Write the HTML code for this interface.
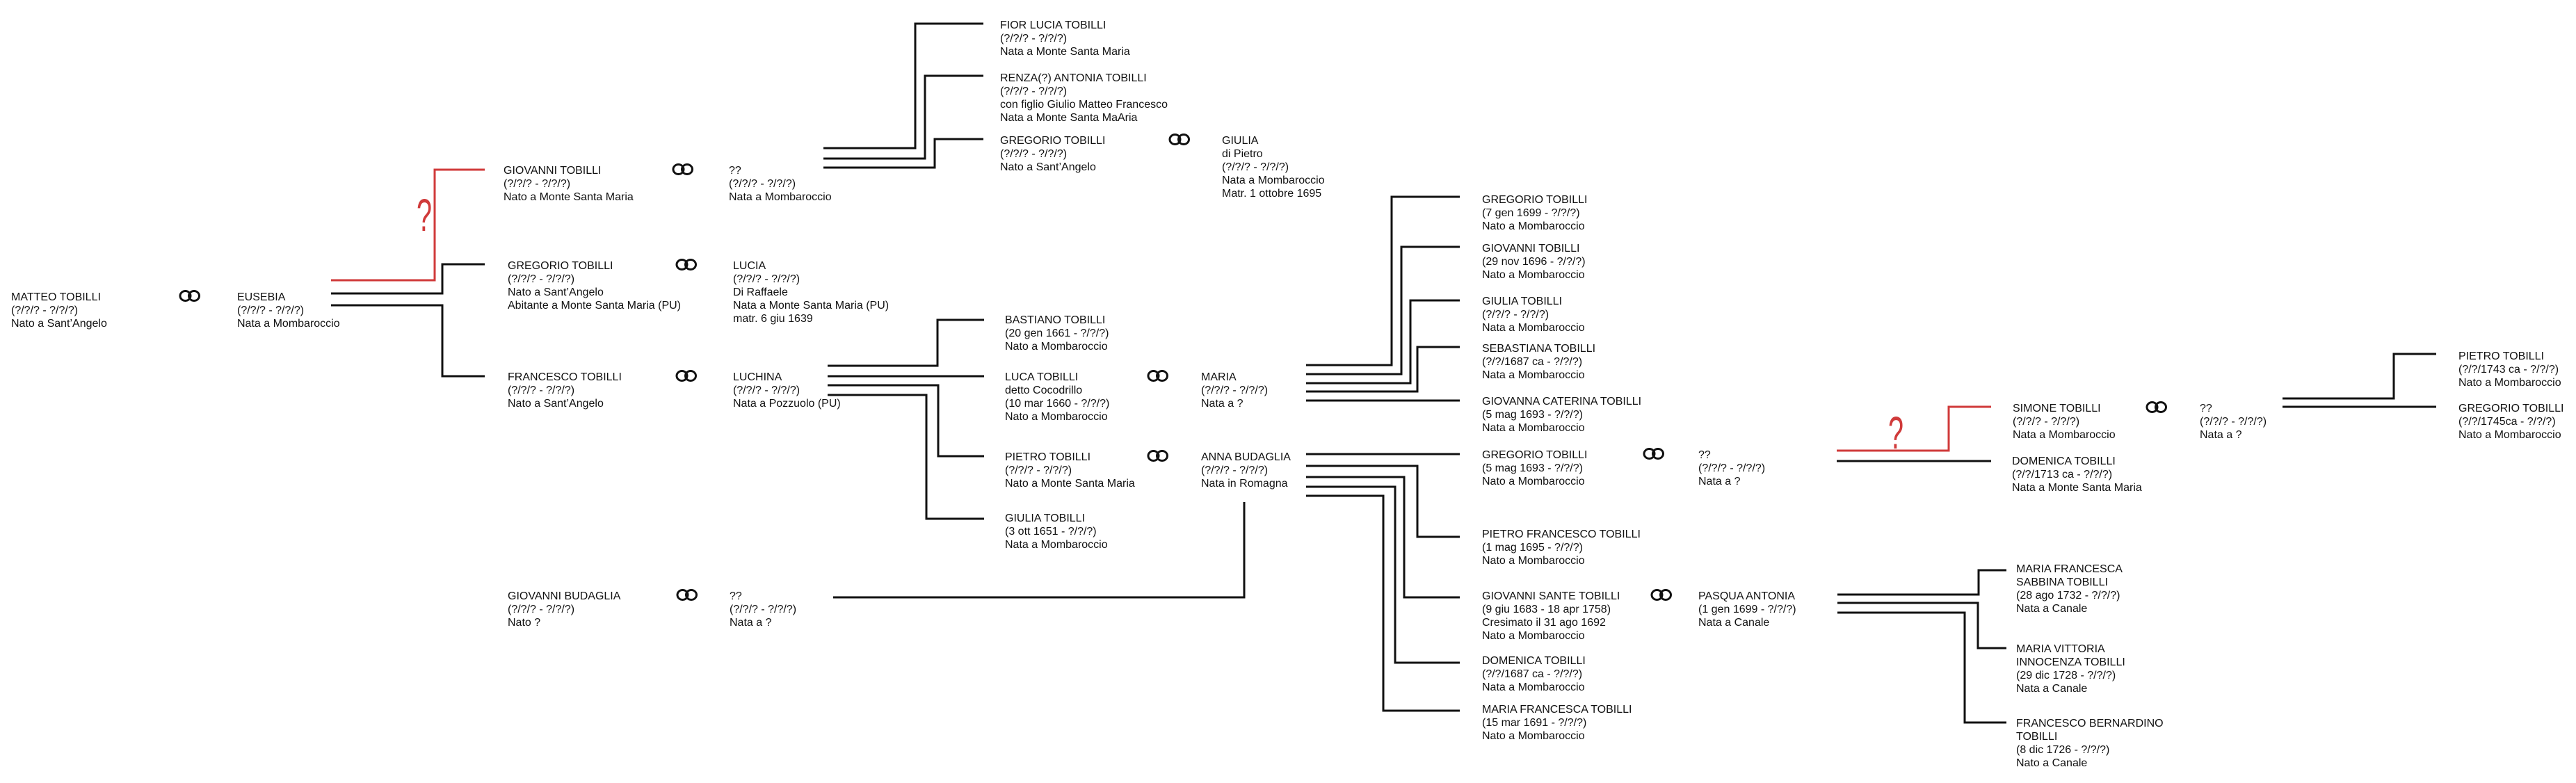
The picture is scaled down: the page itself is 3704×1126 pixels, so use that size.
<!DOCTYPE html>
<html><head><meta charset="utf-8"><style>
html,body{margin:0;padding:0;background:#fff;}
svg{display:block;}
text{font-family:"Liberation Sans",Arial,sans-serif;font-size:16px;fill:#111;}
.q{font-size:66px;fill:#d03a3a;}
</style></head><body>
<svg width="3704" height="1126" viewBox="0 0 3704 1126" xmlns="http://www.w3.org/2000/svg">
<defs>
<g id="ring"><ellipse cx="8.5" cy="-6.5" rx="7.5" ry="7" fill="none" stroke="#111" stroke-width="3"/><ellipse cx="21" cy="-6.5" rx="7.5" ry="7" fill="none" stroke="#111" stroke-width="3"/></g>
</defs>
<g fill="none" stroke="#111" stroke-width="3">
<polyline points="476,422 636,422 636,380 697,380"/>
<polyline points="476,439 636,439 636,541 697,541"/>
<polyline points="1184,213 1316,213 1316,34 1414,34"/>
<polyline points="1184,228 1330,228 1330,109 1414,109"/>
<polyline points="1184,241 1344,241 1344,200 1414,200"/>
<polyline points="1190,526 1348,526 1348,460 1415,460"/>
<polyline points="1190,541 1415,541"/>
<polyline points="1190,554 1349,554 1349,656 1415,656"/>
<polyline points="1190,568 1332,568 1332,746 1415,746"/>
<polyline points="1198,859 1789,859 1789,722"/>
<polyline points="1878,525 2001,525 2001,283 2099,283"/>
<polyline points="1878,538 2015,538 2015,355 2099,355"/>
<polyline points="1878,551 2028,551 2028,432 2099,432"/>
<polyline points="1878,563 2038,563 2038,499 2099,499"/>
<polyline points="1878,576 2099,576"/>
<polyline points="1878,653 2099,653"/>
<polyline points="1878,670 2038,670 2038,772 2099,772"/>
<polyline points="1878,686 2019,686 2019,859 2099,859"/>
<polyline points="1878,700 2006,700 2006,953 2099,953"/>
<polyline points="1878,713 1989,713 1989,1022 2099,1022"/>
<polyline points="2641,663 2863,663"/>
<polyline points="2642,855 2845,855 2845,820 2885,820"/>
<polyline points="2642,867 2844,867 2844,932 2885,932"/>
<polyline points="2642,881 2825,881 2825,1039 2885,1039"/>
<polyline points="3282,573 3442,573 3442,509 3503,509"/>
<polyline points="3282,585 3503,585"/>
</g>
<g fill="none" stroke="#d03a3a" stroke-width="3">
<polyline points="476,403 625,403 625,244 697,244"/>
<polyline points="2641,648 2802,648 2802,585 2863,585"/>
</g>
<text class="q" transform="translate(599,332) scale(0.6,1)">?</text>
<text class="q" transform="translate(2715,645) scale(0.6,1)">?</text>

<use href="#ring" x="258" y="432"/>
<use href="#ring" x="967" y="250"/>
<use href="#ring" x="972" y="387"/>
<use href="#ring" x="972" y="547"/>
<use href="#ring" x="973" y="862"/>
<use href="#ring" x="1681" y="207"/>
<use href="#ring" x="1650" y="547"/>
<use href="#ring" x="1650" y="662"/>
<use href="#ring" x="2363" y="659"/>
<use href="#ring" x="2374" y="862"/>
<use href="#ring" x="3086" y="592"/>

<text x="16" y="432"><tspan x="16">MATTEO TOBILLI</tspan><tspan x="16" dy="19">(?/?/? - ?/?/?)</tspan><tspan x="16" dy="19">Nato a Sant’Angelo</tspan></text>
<text y="432"><tspan x="341">EUSEBIA</tspan><tspan x="341" dy="19">(?/?/? - ?/?/?)</tspan><tspan x="341" dy="19">Nata a Mombaroccio</tspan></text>
<text y="250"><tspan x="724">GIOVANNI TOBILLI</tspan><tspan x="724" dy="19">(?/?/? - ?/?/?)</tspan><tspan x="724" dy="19">Nato a Monte Santa Maria</tspan></text>
<text y="250"><tspan x="1048">??</tspan><tspan x="1048" dy="19">(?/?/? - ?/?/?)</tspan><tspan x="1048" dy="19">Nata a Mombaroccio</tspan></text>
<text y="387"><tspan x="730">GREGORIO TOBILLI</tspan><tspan x="730" dy="19">(?/?/? - ?/?/?)</tspan><tspan x="730" dy="19">Nato a Sant’Angelo</tspan><tspan x="730" dy="19">Abitante a Monte Santa Maria (PU)</tspan></text>
<text y="387"><tspan x="1054">LUCIA</tspan><tspan x="1054" dy="19">(?/?/? - ?/?/?)</tspan><tspan x="1054" dy="19">Di Raffaele</tspan><tspan x="1054" dy="19">Nata a Monte Santa Maria (PU)</tspan><tspan x="1054" dy="19">matr. 6 giu 1639</tspan></text>
<text y="547"><tspan x="730">FRANCESCO TOBILLI</tspan><tspan x="730" dy="19">(?/?/? - ?/?/?)</tspan><tspan x="730" dy="19">Nato a Sant’Angelo</tspan></text>
<text y="547"><tspan x="1054">LUCHINA</tspan><tspan x="1054" dy="19">(?/?/? - ?/?/?)</tspan><tspan x="1054" dy="19">Nata a Pozzuolo (PU)</tspan></text>
<text y="862"><tspan x="730">GIOVANNI BUDAGLIA</tspan><tspan x="730" dy="19">(?/?/? - ?/?/?)</tspan><tspan x="730" dy="19">Nato ?</tspan></text>
<text y="862"><tspan x="1049">??</tspan><tspan x="1049" dy="19">(?/?/? - ?/?/?)</tspan><tspan x="1049" dy="19">Nata a ?</tspan></text>
<text y="41"><tspan x="1438">FIOR LUCIA TOBILLI</tspan><tspan x="1438" dy="19">(?/?/? - ?/?/?)</tspan><tspan x="1438" dy="19">Nata a Monte Santa Maria</tspan></text>
<text y="117"><tspan x="1438">RENZA(?) ANTONIA TOBILLI</tspan><tspan x="1438" dy="19">(?/?/? - ?/?/?)</tspan><tspan x="1438" dy="19">con figlio Giulio Matteo Francesco</tspan><tspan x="1438" dy="19">Nata a Monte Santa MaAria</tspan></text>
<text y="207"><tspan x="1438">GREGORIO TOBILLI</tspan><tspan x="1438" dy="19">(?/?/? - ?/?/?)</tspan><tspan x="1438" dy="19">Nato a Sant’Angelo</tspan></text>
<text y="207"><tspan x="1757">GIULIA</tspan><tspan x="1757" dy="19">di Pietro</tspan><tspan x="1757" dy="19">(?/?/? - ?/?/?)</tspan><tspan x="1757" dy="19">Nata a Mombaroccio</tspan><tspan x="1757" dy="19">Matr. 1 ottobre 1695</tspan></text>
<text y="465"><tspan x="1445">BASTIANO TOBILLI</tspan><tspan x="1445" dy="19">(20 gen 1661 - ?/?/?)</tspan><tspan x="1445" dy="19">Nato a Mombaroccio</tspan></text>
<text y="547"><tspan x="1445">LUCA TOBILLI</tspan><tspan x="1445" dy="19">detto Cocodrillo</tspan><tspan x="1445" dy="19">(10 mar 1660 - ?/?/?)</tspan><tspan x="1445" dy="19">Nato a Mombaroccio</tspan></text>
<text y="547"><tspan x="1727">MARIA</tspan><tspan x="1727" dy="19">(?/?/? - ?/?/?)</tspan><tspan x="1727" dy="19">Nata a ?</tspan></text>
<text y="662"><tspan x="1445">PIETRO TOBILLI</tspan><tspan x="1445" dy="19">(?/?/? - ?/?/?)</tspan><tspan x="1445" dy="19">Nato a Monte Santa Maria</tspan></text>
<text y="662"><tspan x="1727">ANNA BUDAGLIA</tspan><tspan x="1727" dy="19">(?/?/? - ?/?/?)</tspan><tspan x="1727" dy="19">Nata in Romagna</tspan></text>
<text y="750"><tspan x="1445">GIULIA TOBILLI</tspan><tspan x="1445" dy="19">(3 ott 1651 - ?/?/?)</tspan><tspan x="1445" dy="19">Nata a Mombaroccio</tspan></text>
<text y="292"><tspan x="2131">GREGORIO TOBILLI</tspan><tspan x="2131" dy="19">(7 gen 1699 - ?/?/?)</tspan><tspan x="2131" dy="19">Nato a Mombaroccio</tspan></text>
<text y="362"><tspan x="2131">GIOVANNI TOBILLI</tspan><tspan x="2131" dy="19">(29 nov 1696 - ?/?/?)</tspan><tspan x="2131" dy="19">Nato a Mombaroccio</tspan></text>
<text y="438"><tspan x="2131">GIULIA TOBILLI</tspan><tspan x="2131" dy="19">(?/?/? - ?/?/?)</tspan><tspan x="2131" dy="19">Nata a Mombaroccio</tspan></text>
<text y="506"><tspan x="2131">SEBASTIANA TOBILLI</tspan><tspan x="2131" dy="19">(?/?/1687 ca - ?/?/?)</tspan><tspan x="2131" dy="19">Nata a Mombaroccio</tspan></text>
<text y="582"><tspan x="2131">GIOVANNA CATERINA TOBILLI</tspan><tspan x="2131" dy="19">(5 mag 1693 - ?/?/?)</tspan><tspan x="2131" dy="19">Nata a Mombaroccio</tspan></text>
<text y="659"><tspan x="2131">GREGORIO TOBILLI</tspan><tspan x="2131" dy="19">(5 mag 1693 - ?/?/?)</tspan><tspan x="2131" dy="19">Nato a Mombaroccio</tspan></text>
<text y="659"><tspan x="2442">??</tspan><tspan x="2442" dy="19">(?/?/? - ?/?/?)</tspan><tspan x="2442" dy="19">Nata a ?</tspan></text>
<text y="773"><tspan x="2131">PIETRO FRANCESCO TOBILLI</tspan><tspan x="2131" dy="19">(1 mag 1695 - ?/?/?)</tspan><tspan x="2131" dy="19">Nato a Mombaroccio</tspan></text>
<text y="862"><tspan x="2131">GIOVANNI SANTE TOBILLI</tspan><tspan x="2131" dy="19">(9 giu 1683 - 18 apr 1758)</tspan><tspan x="2131" dy="19">Cresimato il 31 ago 1692</tspan><tspan x="2131" dy="19">Nato a Mombaroccio</tspan></text>
<text y="862"><tspan x="2442">PASQUA ANTONIA</tspan><tspan x="2442" dy="19">(1 gen 1699 - ?/?/?)</tspan><tspan x="2442" dy="19">Nata a Canale</tspan></text>
<text y="955"><tspan x="2131">DOMENICA TOBILLI</tspan><tspan x="2131" dy="19">(?/?/1687 ca - ?/?/?)</tspan><tspan x="2131" dy="19">Nata a Mombaroccio</tspan></text>
<text y="1025"><tspan x="2131">MARIA FRANCESCA TOBILLI</tspan><tspan x="2131" dy="19">(15 mar 1691 - ?/?/?)</tspan><tspan x="2131" dy="19">Nato a Mombaroccio</tspan></text>
<text y="592"><tspan x="2894">SIMONE TOBILLI</tspan><tspan x="2894" dy="19">(?/?/? - ?/?/?)</tspan><tspan x="2894" dy="19">Nata a Mombaroccio</tspan></text>
<text y="592"><tspan x="3163">??</tspan><tspan x="3163" dy="19">(?/?/? - ?/?/?)</tspan><tspan x="3163" dy="19">Nata a ?</tspan></text>
<text y="668"><tspan x="2893">DOMENICA TOBILLI</tspan><tspan x="2893" dy="19">(?/?/1713 ca - ?/?/?)</tspan><tspan x="2893" dy="19">Nata a Monte Santa Maria</tspan></text>
<text y="517"><tspan x="3535">PIETRO TOBILLI</tspan><tspan x="3535" dy="19">(?/?/1743 ca - ?/?/?)</tspan><tspan x="3535" dy="19">Nato a Mombaroccio</tspan></text>
<text y="592"><tspan x="3535">GREGORIO TOBILLI</tspan><tspan x="3535" dy="19">(?/?/1745ca - ?/?/?)</tspan><tspan x="3535" dy="19">Nato a Mombaroccio</tspan></text>
<text y="823"><tspan x="2899">MARIA FRANCESCA</tspan><tspan x="2899" dy="19">SABBINA TOBILLI</tspan><tspan x="2899" dy="19">(28 ago 1732 - ?/?/?)</tspan><tspan x="2899" dy="19">Nata a Canale</tspan></text>
<text y="938"><tspan x="2899">MARIA VITTORIA</tspan><tspan x="2899" dy="19">INNOCENZA TOBILLI</tspan><tspan x="2899" dy="19">(29 dic 1728 - ?/?/?)</tspan><tspan x="2899" dy="19">Nata a Canale</tspan></text>
<text y="1045"><tspan x="2899">FRANCESCO BERNARDINO</tspan><tspan x="2899" dy="19">TOBILLI</tspan><tspan x="2899" dy="19">(8 dic 1726 - ?/?/?)</tspan><tspan x="2899" dy="19">Nato a Canale</tspan></text>
</svg>
</body></html>
